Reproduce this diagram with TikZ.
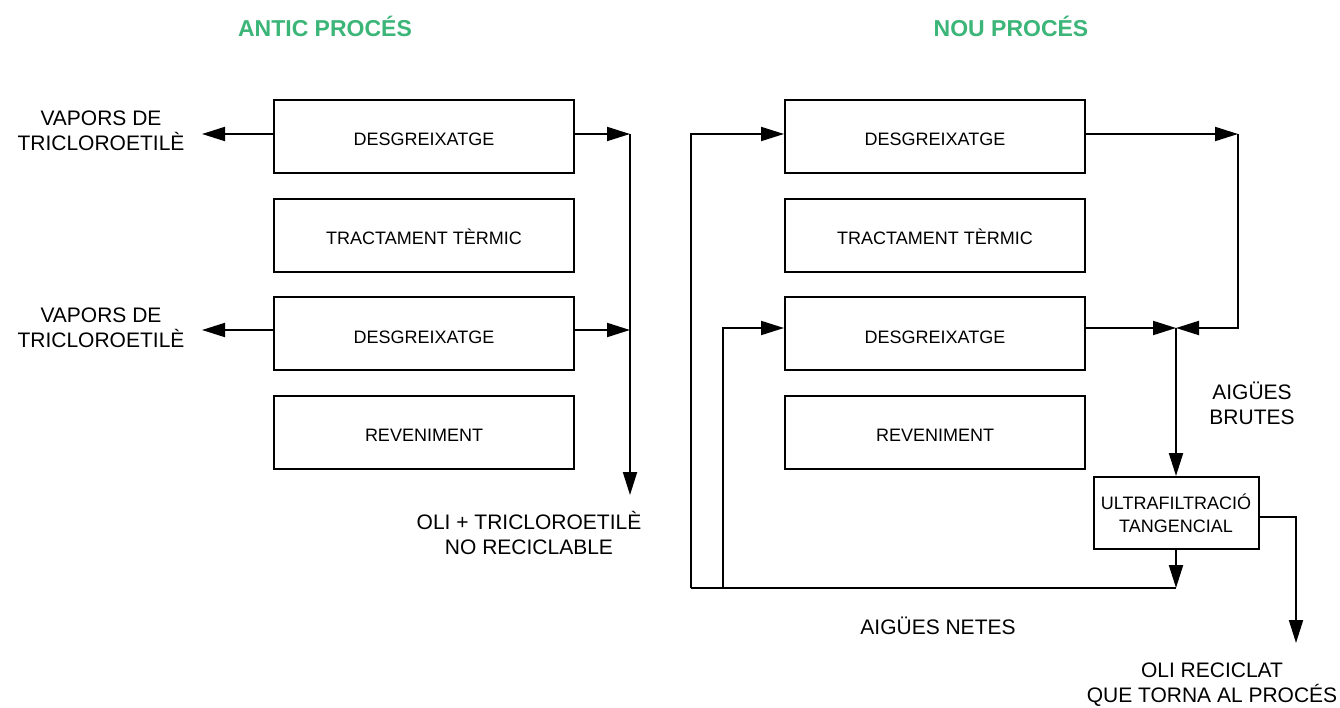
\documentclass[tikz,border=0pt]{standalone}
\usepackage{fontspec}
\setmainfont{Liberation Sans}
\usetikzlibrary{arrows.meta}
\definecolor{titlegreen}{RGB}{59,181,120}
\begin{document}
\begin{tikzpicture}[x=1pt,y=-1pt,
  line width=2pt,
  procbox/.style={draw, minimum width=300pt, minimum height=73pt, inner sep=0pt,
    text height=19pt, text depth=0pt,
    font=\fontsize{18}{23}\selectfont},
  ufbox/.style={draw, minimum width=165pt, minimum height=72pt, inner sep=0pt, align=center,
    font=\fontsize{18}{23}\selectfont},
  lbl/.style={align=center, inner sep=0pt, font=\fontsize{21}{25}\selectfont},
  ttl/.style={inner sep=0pt, text=titlegreen, font=\fontsize{23}{27}\selectfont\bfseries},
  flow/.style={-{Triangle[length=23pt,width=14pt]}, line join=miter}
]
\useasboundingbox (0,0) rectangle (1340,708);

% titles
\node[ttl] (t1) at (325,26) {ANTIC PROCÉS};
\node[ttl] (t2) at (1011,26) {NOU PROCÉS};

% left column
\node[procbox] (b1) at (424,136.5) {DESGREIXATGE};
\node[procbox] (b2) at (424,235.5) {TRACTAMENT TÈRMIC};
\node[procbox] (b3) at (424,333.5) {DESGREIXATGE};
\node[procbox] (b4) at (424,432) {REVENIMENT};

% right column
\node[procbox] (c1) at (935,136.5) {DESGREIXATGE};
\node[procbox] (c2) at (935,235.5) {TRACTAMENT TÈRMIC};
\node[procbox] (c3) at (935,333.5) {DESGREIXATGE};
\node[procbox] (c4) at (935,432) {REVENIMENT};

\node[ufbox] (uf) at (1176,513) {ULTRAFILTRACIÓ\\TANGENCIAL};

% labels
\node[lbl] (v1) at (101,131) {VAPORS DE\\TRICLOROETILÈ};
\node[lbl] (v2) at (101,328) {VAPORS DE\\TRICLOROETILÈ};
\node[lbl] (oli) at (529,533) {OLI + TRICLOROETILÈ\\NO RECICLABLE};
\node[lbl] (brutes) at (1252,403) {AIGÜES\\BRUTES};
\node[lbl] (netes) at (938,626) {AIGÜES NETES};
\node[lbl] (recic) at (1212,685) {OLI RECICLAT\\QUE TORNA AL PROCÉS};

% coordinates
\coordinate (va1) at (202,134);
\coordinate (va2) at (202,330);
\coordinate (lt) at (630,134);
\coordinate (lm) at (630,330);
\coordinate (lb) at (630,495);
\coordinate (rt) at (1238,134);
\coordinate (rm) at (1238,328);
\coordinate (j) at (1176,328);
\coordinate (bot) at (1176,588);
\coordinate (bl1) at (691,588);
\coordinate (bl2) at (723,588);
\coordinate (ro) at (1296,517);
\coordinate (rb) at (1296,643);

% left flows
\draw[flow] ([yshift=2.5pt]b1.west) -- (va1);
\draw[flow] ([yshift=3.5pt]b3.west) -- (va2);
\draw[flow] ([yshift=2.5pt]b1.east) -- (lt);
\draw[flow] ([yshift=3.5pt]b3.east) -- (lm);
\draw[flow] (lt) -- (lb);

% right flows
\draw[flow] ([yshift=2.5pt]c1.east) -- (rt);
\draw[flow] (rt) -- (rm) -- (j);
\draw[flow] ([yshift=5.5pt]c3.east) -- (j);
\draw[flow] (j) -- (uf.north);
\draw[flow] (uf.south) -- (bot);
\draw (bot) -- (bl1);
\draw[flow] (bl1) |- ([yshift=2.5pt]c1.west);
\draw[flow] (bl2) |- ([yshift=5.5pt]c3.west);
\draw[flow] (uf.east |- ro) -- (ro) -- (rb);
\end{tikzpicture}
\end{document}
